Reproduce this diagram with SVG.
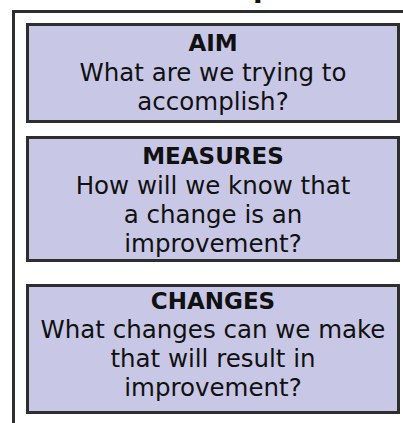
<svg xmlns="http://www.w3.org/2000/svg" width="403" height="423" viewBox="0 0 403 423">
  <style>
    .frame { fill: none; stroke: #2e2e2e; stroke-width: 3; }
    .box { fill: #c8c8e6; stroke: #2e2e2e; stroke-width: 3; }
    .head { font-family: "DejaVu Sans", "Liberation Sans", sans-serif; font-weight: bold; font-size: 23px; fill: #111; text-anchor: middle; }
    .body { font-family: "DejaVu Sans", "Liberation Sans", sans-serif; font-size: 24.5px; fill: #111; text-anchor: middle; }
    .title { font-family: "DejaVu Sans", "Liberation Sans", sans-serif; font-weight: bold; font-size: 28px; fill: #111; }
  </style>
  <rect x="0" y="0" width="403" height="423" fill="#ffffff"/>

  <!-- heading, clipped by the top edge -->
  <text class="title" x="53" y="-3">Model for Improvement</text>

  <!-- outer frame running off the right and bottom edges -->
  <g id="frame">
    <path class="frame" d="M13.5,424 V11.5 H404"/>
  </g>

  <g id="aim">
    <rect class="box" x="27.5" y="24.5" width="371" height="97"/>
    <text class="head" x="213" y="51">AIM</text>
    <text class="body" x="213" y="81">What are we trying to</text>
    <text class="body" x="213" y="110">accomplish?</text>
  </g>

  <g id="measures">
    <rect class="box" x="27.5" y="137.5" width="371" height="123"/>
    <text class="head" x="213" y="164">MEASURES</text>
    <text class="body" x="213" y="194">How will we know that</text>
    <text class="body" x="213" y="223">a change is an</text>
    <text class="body" x="213" y="252">improvement?</text>
  </g>

  <g id="changes">
    <rect class="box" x="27.5" y="285.5" width="371" height="127"/>
    <text class="head" x="213" y="309">CHANGES</text>
    <text class="body" x="213" y="338">What changes can we make</text>
    <text class="body" x="213" y="367">that will result in</text>
    <text class="body" x="213" y="396">improvement?</text>
  </g>
</svg>
